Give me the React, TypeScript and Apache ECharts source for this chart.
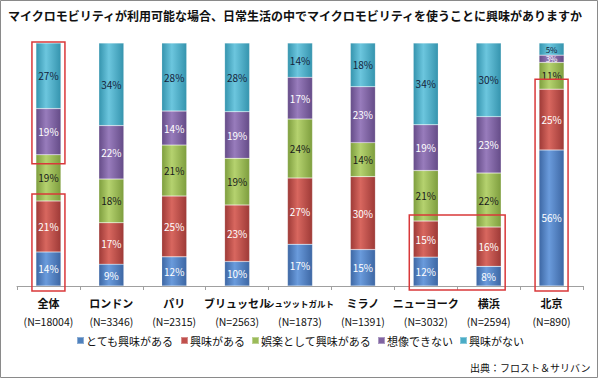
import React, { useEffect, useRef } from 'react';
import * as echarts from 'echarts';

const titleText = 'マイクロモビリティが利用可能な場合、日常生活の中でマイクロモビリティを使うことに興味がありますか';
const sourceText = '出典：フロスト＆サリバン';

const categories = ['全体', 'ロンドン', 'パリ', 'ブリュッセル', 'シュツットガルト', 'ミラノ', 'ニューヨーク', '横浜', '北京'];
const sampleSizes = ['N=18004', 'N=3346', 'N=2315', 'N=2563', 'N=1873', 'N=1391', 'N=3032', 'N=2594', 'N=890'];

const seriesNames = ['とても興味がある', '興味がある', '娯楽として興味がある', '想像できない', '興味がない'];
const veryInterested = [14, 9, 12, 10, 17, 15, 12, 8, 56];
const interested = [21, 17, 25, 23, 27, 30, 15, 16, 25];
const asEntertainment = [19, 18, 21, 19, 24, 14, 21, 22, 11];
const cannotImagine = [19, 22, 14, 19, 17, 23, 19, 23, 3];
const notInterested = [27, 34, 28, 28, 14, 18, 34, 30, 5];

// highlighted groups: category indices and series range (inclusive)
const highlights = [
  { cats: [0], fromSeries: 3, toSeries: 4 },
  { cats: [0], fromSeries: 0, toSeries: 1 },
  { cats: [6, 7], fromSeries: 0, toSeries: 1 },
  { cats: [8], fromSeries: 0, toSeries: 1 },
];

// styles
const highlightPads = [
  { top: 1, bottom: 9 },
  { top: 7, bottom: 5 },
  { top: 6, bottom: 4 },
  { top: 10, bottom: 5 },
];
const seriesColors = [
  { base: '#4F81BD', light: '#6a9bdc', dark: '#3d67a4', label: '#ffffff' },
  { base: '#C0504D', light: '#d8675f', dark: '#9e3a37', label: '#ffffff' },
  { base: '#9BBB59', light: '#b5d26f', dark: '#7e9e3e', label: '#1a1a1a' },
  { base: '#8064A2', light: '#987cbc', dark: '#654c88', label: '#ffffff' },
  { base: '#4BACC6', light: '#6cc6de', dark: '#3594ae', label: '#14233a' },
];
const BAR_W = 25;
const PAD_X = 4;
const FONT = "'Noto Sans CJK JP', 'Noto Sans', sans-serif";

export default function App() {
  const ref = useRef<HTMLDivElement>(null);
  useEffect(() => {
    if (!ref.current) return;
    const chart = echarts.init(ref.current, null, { renderer: 'svg' });
    const raw = [veryInterested, interested, asEntertainment, cannotImagine, notInterested];
    const totals = categories.map((_, i) => raw.reduce((s, arr) => s + arr[i], 0));
    const norm = raw.map((arr) => arr.map((v, i) => (v / totals[i]) * 100));

    const series = seriesNames.map((name, si) => ({
      name,
      type: 'bar',
      stack: 'total',
      barWidth: BAR_W,
      data: norm[si].map((v, i) =>
        raw[si][i] < 6 ? { value: v, label: { fontSize: 8, lineHeight: 8 } } : v
      ),
      itemStyle: {
        color: {
          type: 'linear', x: 0, y: 0, x2: 1, y2: 0,
          colorStops: [
            { offset: 0, color: seriesColors[si].dark },
            { offset: 0.4, color: seriesColors[si].light },
            { offset: 1, color: seriesColors[si].dark },
          ],
        },
        borderColor: 'rgba(255,255,255,0.35)',
        borderWidth: 0.5,
      },
      label: {
        show: true,
        position: 'inside',
        fontSize: 10,
        fontFamily: FONT,
        color: seriesColors[si].label,
        formatter: (p: any) => raw[si][p.dataIndex] + '%',
      },
      emphasis: { disabled: true },
    }));

    chart.setOption({
      animation: false,
      textStyle: { fontFamily: FONT },
      color: seriesColors.map((c) => c.base),
      title: {
        text: titleText,
        left: 3,
        top: 4,
        textStyle: { fontSize: 12, fontWeight: 'bold', color: '#111', fontFamily: FONT },
      },
      legend: {
        data: seriesNames.map((n, i) => ({ name: n, itemStyle: { color: seriesColors[i].base } })),
        bottom: 29,
        left: 'center',
        icon: 'rect',
        itemWidth: 7,
        itemHeight: 7,
        itemGap: 6,
        textStyle: { fontSize: 11, color: '#111', padding: [0, 0, 0, -3] },
      },
      grid: { left: 17, right: 17, top: 43, bottom: 94 },
      xAxis: {
        type: 'category',
        data: categories,
        axisLine: { lineStyle: { color: '#a0a0a0' } },
        axisTick: { show: true, length: 4, lineStyle: { color: '#a0a0a0' } },
        axisLabel: {
          interval: 0,
          margin: 8,
          formatter: (v: string, i: number) =>
            (v.length > 6 ? '{s|' + v + '}' : '{n|' + v + '}') + '\n{c|(' + sampleSizes[i] + ')}',
          rich: {
            n: { fontSize: 11, fontWeight: 'bold', color: '#111', lineHeight: 18, fontFamily: FONT },
            s: { fontSize: 8.5, fontWeight: 'bold', color: '#111', lineHeight: 18, fontFamily: FONT },
            c: { fontSize: 10.5, color: '#111', lineHeight: 18, fontFamily: FONT },
          },
        },
      },
      yAxis: { type: 'value', min: 0, max: 100, show: false, splitLine: { show: false } },
      series,
      graphic: [
        {
          type: 'rect',
          id: 'frame',
          silent: true,
          shape: { x: 0.5, y: 0.5, width: 597, height: 377 },
          style: { fill: 'none', stroke: '#8a8a8a', lineWidth: 1 },
        },
        {
          type: 'text',
          id: 'source',
          right: 10,
          top: 362,
          style: { text: sourceText, fontSize: 10, fill: '#111', fontFamily: FONT },
        },
      ],
    });

    const cum = (ci: number, upto: number) => {
      let s = 0;
      for (let k = 0; k <= upto; k++) s += norm[k][ci];
      return s;
    };
    const boxes = highlights.map((h, hi) => {
      let left = Infinity, right = -Infinity, top = Infinity, bottom = -Infinity;
      h.cats.forEach((ci) => {
        const hiVal = cum(ci, h.toSeries);
        const loVal = h.fromSeries > 0 ? cum(ci, h.fromSeries - 1) : 0;
        const pTop = chart.convertToPixel({ gridIndex: 0 }, [ci, hiVal]) as number[];
        const pBot = chart.convertToPixel({ gridIndex: 0 }, [ci, loVal]) as number[];
        left = Math.min(left, pTop[0] - BAR_W / 2 - PAD_X);
        right = Math.max(right, pTop[0] + BAR_W / 2 + PAD_X);
        top = Math.min(top, pTop[1] - highlightPads[hi].top);
        bottom = Math.max(bottom, pBot[1] + highlightPads[hi].bottom);
      });
      return {
        type: 'rect',
        id: 'hl' + hi,
        silent: true,
        z: 100,
        shape: { x: left, y: top, width: right - left, height: bottom - top },
        style: { fill: 'none', stroke: '#d9383a', lineWidth: 1.5 },
      };
    });
    chart.setOption({ graphic: boxes });

    return () => chart.dispose();
  }, []);
  return (
    <div style={{ position: 'fixed', left: 0, top: 0, width: 600, height: 380, background: '#fff' }}>
      <div ref={ref} style={{ width: 600, height: 380 }} />
    </div>
  );
}
